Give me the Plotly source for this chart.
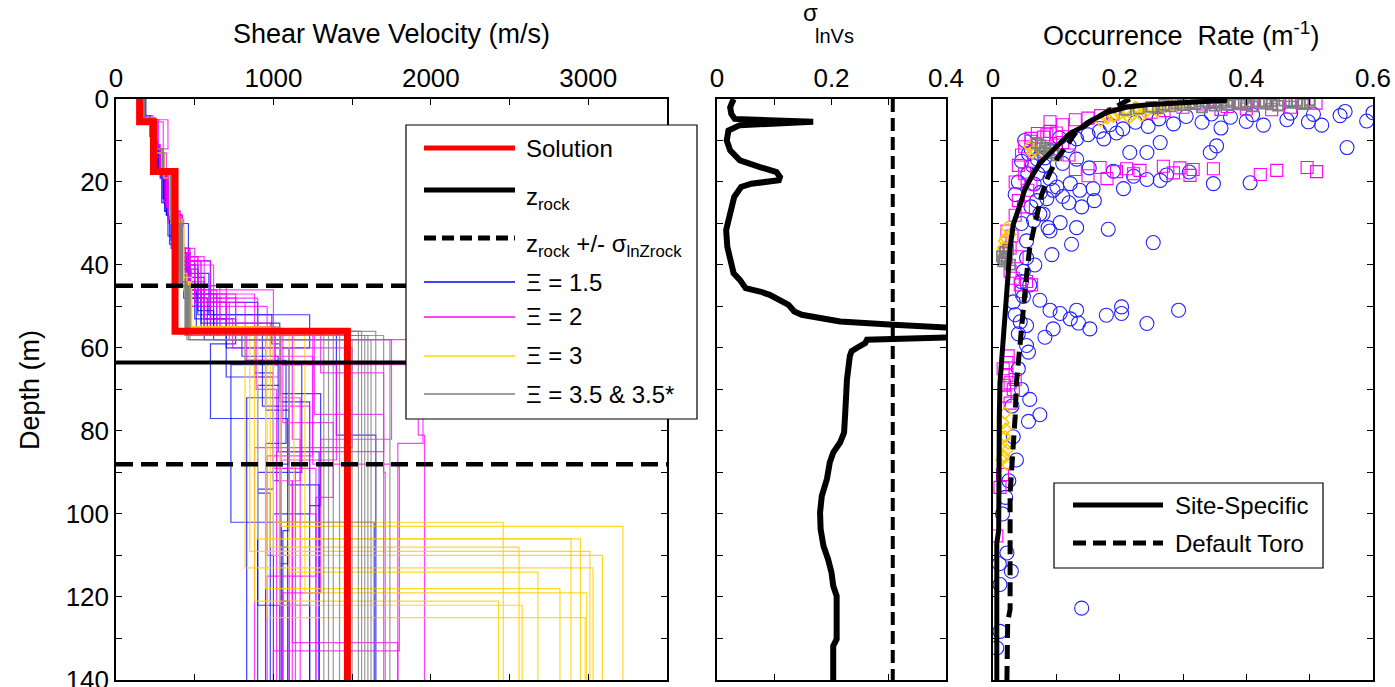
import plotly.graph_objects as go

W, H = 1395, 687
FONT = "Liberation Sans, Arial, sans-serif"

# ---------------- data ----------------
depth_labels = list(range(0, 141, 20))

# Solution Vs profile: layer bottoms (m) and Vs (m/s)
sol_bottoms = [5.5, 17.5, 56, 140]
sol_vs = [150, 238, 375, 1470]

z_rock = 63.5
z_rock_lo = 45.0
z_rock_hi = 88.0

# Xi = 1.5 profiles
blue_bottoms = [
    [5, 12, 19, 28, 40, 50, 57, 72, 140],
    [4, 10, 17, 25, 36, 45, 54, 64, 102, 140],
    [6, 13, 19, 30, 41, 52, 60, 93, 140],
    [5, 11, 18, 27, 38, 48, 58, 69, 95, 140],
    [4.5, 10, 16, 24, 34, 45, 56, 74, 108, 140],
    [5.5, 12, 18, 26, 37, 47, 57, 64, 90, 122, 140],
    [5, 13, 19, 29, 39, 49, 56, 81, 140],
    [4, 9, 17, 25, 35, 44, 53, 59, 77, 112, 140],
    [6, 12, 18, 28, 40, 51, 58, 67, 94, 140],
    [5, 11, 18, 27, 36, 46, 55, 62, 85, 118, 140],
    [5, 12, 19, 30, 42, 52, 59, 73, 100, 140],
    [4.5, 11, 17, 24, 33, 43, 53, 60, 88, 140],
    [5, 12, 18, 27, 38, 48, 57, 66, 92, 121, 140],
    [4.5, 11, 17, 25, 36, 47, 55, 71, 98, 140],
    [5, 12, 18, 28, 39, 49, 58, 75, 104, 140],
    [5, 11, 18, 26, 37, 46, 56, 63, 83, 140],
]
blue_vs = [
    [170, 230, 280, 320, 380, 470, 600, 1040, 830],
    [160, 220, 260, 300, 350, 460, 540, 1040, 730, 1640],
    [190, 250, 290, 340, 400, 520, 1230, 1100, 1290],
    [175, 240, 270, 310, 370, 430, 560, 1040, 900, 980],
    [180, 235, 265, 300, 350, 410, 600, 930, 1050, 1090],
    [165, 230, 275, 315, 380, 460, 640, 1040, 1180, 900, 1230],
    [170, 245, 285, 330, 390, 500, 900, 1400, 1650],
    [160, 215, 255, 290, 340, 420, 500, 760, 600, 1090, 1050],
    [185, 240, 280, 320, 400, 520, 620, 700, 1000, 900],
    [170, 230, 270, 310, 360, 440, 510, 800, 1030, 1290, 1290],
    [175, 250, 290, 340, 460, 590, 990, 1040, 1230, 1000],
    [170, 225, 265, 300, 330, 420, 560, 700, 1100, 1040],
    [175, 240, 280, 320, 380, 450, 580, 880, 1000, 1050, 1100],
    [170, 230, 270, 310, 360, 470, 620, 1040, 1300, 1230],
    [180, 245, 285, 330, 400, 600, 700, 950, 1100, 1060],
    [170, 235, 275, 315, 370, 450, 540, 820, 1080, 950],
]

# Xi = 2 profiles
mag_bottoms = [
    [5, 13, 18, 27, 38, 47, 56, 64, 83, 140],
    [4.5, 12, 17, 26, 36, 45, 55, 70, 92, 131, 140],
    [5, 12, 18, 29, 40, 48, 57, 82, 140],
    [5.5, 13, 19, 28, 39, 46, 56, 76, 90, 140],
    [4, 11, 17, 25, 35, 44, 53, 60, 84, 140],
    [5, 12, 18, 27, 37, 46, 55, 67, 89, 115, 140],
    [6, 14, 19, 30, 41, 50, 58, 81, 140],
    [5, 12, 17, 26, 36, 45, 54, 62, 88, 133, 140],
    [4.5, 12, 18, 28, 39, 49, 57, 78, 96, 140],
    [5, 13, 19, 29, 40, 48, 56, 72, 92, 140],
    [5, 11, 17, 26, 37, 46, 55, 64, 87, 140],
    [5.5, 12, 19, 28, 38, 47, 57, 86, 110, 140],
    [5, 12, 18, 27, 38, 47, 56, 66, 85, 140],
    [5, 12, 18, 28, 39, 48, 57, 74, 100, 140],
    [4.5, 11, 17, 26, 37, 46, 55, 63, 89, 140],
    [5, 12, 19, 29, 40, 49, 58, 82, 119, 140],
]
mag_vs = [
    [175, 250, 290, 330, 400, 520, 760, 1010, 1950, 1790],
    [165, 240, 280, 320, 380, 460, 660, 890, 1020, 1120, 1790],
    [180, 270, 300, 340, 410, 500, 900, 1120, 1170],
    [170, 300, 320, 360, 420, 600, 1000, 1260, 1700, 1710],
    [160, 235, 275, 310, 370, 430, 560, 740, 1500, 880],
    [175, 330, 300, 350, 400, 470, 640, 880, 1050, 1270, 960],
    [185, 260, 290, 330, 400, 480, 960, 1920, 1960],
    [170, 245, 285, 320, 390, 500, 700, 980, 1250, 1800, 1000],
    [170, 250, 295, 340, 420, 540, 820, 1060, 1380, 1270],
    [180, 260, 300, 350, 430, 620, 760, 1000, 1170, 1120],
    [175, 240, 280, 320, 380, 450, 560, 1010, 1400, 1050],
    [170, 260, 300, 340, 420, 520, 880, 1250, 960, 1100],
    [175, 250, 290, 330, 410, 560, 700, 1300, 1700, 1020],
    [180, 255, 300, 345, 420, 540, 660, 1050, 1230, 1270],
    [170, 240, 280, 320, 390, 470, 600, 830, 1000, 1140],
    [175, 250, 300, 340, 420, 500, 720, 1750, 1300, 1060],
]

# Xi = 3 profiles
yel_bottoms = [
    [5, 12, 18, 30, 45, 56, 102, 140],
    [5, 12, 18, 30, 44, 55, 103, 140],
    [4.5, 12, 18, 29, 43, 56, 106, 140],
    [5, 13, 19, 31, 46, 57, 106, 140],
    [5, 12, 18, 28, 42, 55, 108, 140],
    [5, 12, 18, 30, 45, 56, 109, 140],
    [5, 12, 18, 30, 44, 56, 110, 140],
    [4.5, 12, 18, 29, 43, 55, 113, 140],
    [5, 12, 18, 30, 45, 56, 114, 140],
    [5, 13, 19, 31, 46, 57, 118, 140],
    [5, 12, 18, 30, 44, 56, 119, 140],
    [5, 12, 18, 30, 44, 55, 121, 140],
    [5, 12, 18, 30, 45, 56, 122, 140],
    [5, 12, 18, 30, 45, 56, 125, 140],
]
yel_vs = [
    [175, 250, 300, 360, 420, 470, 1000, 2460],
    [170, 245, 295, 350, 410, 460, 1050, 3220],
    [175, 250, 300, 350, 420, 480, 900, 2890],
    [180, 255, 305, 360, 430, 460, 1130, 2950],
    [170, 245, 290, 340, 400, 450, 980, 2560],
    [175, 255, 300, 355, 420, 470, 850, 3010],
    [175, 250, 300, 350, 400, 460, 1000, 3090],
    [175, 250, 295, 345, 410, 450, 820, 3030],
    [180, 250, 300, 360, 420, 470, 1100, 2680],
    [175, 255, 305, 360, 430, 480, 950, 2820],
    [170, 250, 300, 350, 410, 470, 1200, 2990],
    [175, 250, 300, 350, 410, 470, 880, 2430],
    [175, 245, 300, 355, 420, 460, 1040, 2580],
    [175, 250, 300, 360, 420, 470, 960, 2980],
]

# Xi = 3.5 & 3.5* profiles
gray_bottoms = [
    [5, 12, 18, 30, 44, 56, 140],
    [5, 12, 18, 30, 45, 57, 140],
    [5, 12, 18, 30, 45, 56, 140],
    [4.5, 12, 18, 29, 44, 57, 140],
    [5, 12, 18, 30, 45, 58, 140],
    [5, 12, 18, 30, 45, 56, 140],
    [5, 12, 18, 30, 44, 57, 140],
    [5, 12, 18, 30, 45, 58, 140],
    [5, 12, 18, 30, 45, 56, 140],
    [5, 13, 19, 30, 45, 57, 140],
    [5, 12, 18, 30, 45, 58, 140],
    [5, 12, 18, 30, 44, 57, 140],
    [5, 12, 18, 30, 45, 56, 140],
    [5, 12, 18, 30, 45, 57, 140],
]
gray_vs = [
    [175, 250, 300, 360, 410, 450, 1320],
    [170, 245, 300, 350, 400, 440, 1380],
    [175, 250, 300, 355, 420, 460, 1420],
    [175, 250, 295, 350, 410, 450, 1460],
    [180, 255, 300, 360, 420, 470, 1500],
    [175, 250, 300, 360, 410, 450, 1540],
    [175, 250, 300, 355, 400, 440, 1580],
    [170, 250, 300, 350, 410, 460, 1620],
    [175, 250, 300, 360, 420, 470, 1650],
    [180, 255, 305, 360, 420, 460, 1700],
    [175, 250, 300, 355, 410, 450, 1740],
    [175, 250, 300, 350, 400, 440, 1350],
    [175, 245, 300, 360, 420, 460, 1560],
    [175, 250, 300, 355, 415, 455, 1600],
]

# sigma lnVs vs depth
sig_depth = [0, 2, 3.6, 4.8, 5.5, 6.3, 7.6, 10, 12.4, 14.8, 16.4, 17.6, 18.8, 19.6,
             20.4, 21.2, 23.6, 27.6, 31.6, 35.6, 40.4, 42, 43.6, 45.6, 46.4, 47.2,
             49.6, 51.2, 52, 52.8, 53.6, 54.4, 55.2, 56.4, 57.4, 58, 58.8, 60, 60.8,
             62, 67.6, 75.6, 80.4, 82.8, 85.2, 87.6, 91.6, 95.7, 99.7, 103.7, 107.7,
             110.9, 114.1, 117.3, 119.8, 125.4, 130.2, 131.8, 140]
sig_val = [0.029, 0.023, 0.025, 0.031, 0.168, 0.040, 0.020, 0.017, 0.023, 0.040,
           0.075, 0.104, 0.110, 0.108, 0.060, 0.042, 0.030, 0.022, 0.016, 0.018,
           0.026, 0.029, 0.040, 0.050, 0.075, 0.092, 0.125, 0.135, 0.148, 0.190,
           0.215, 0.308, 0.42, 0.45, 0.42, 0.262, 0.259, 0.244, 0.235, 0.232,
           0.227, 0.224, 0.222, 0.215, 0.203, 0.197, 0.192, 0.183, 0.180, 0.181,
           0.186, 0.194, 0.200, 0.203, 0.209, 0.209, 0.209, 0.203, 0.203]
sigma_lnz = 0.307

# occurrence-rate models
site_depth = [0.3, 0.8, 1.3, 2.0, 3.2, 4.8, 6.5, 8.2, 11.5, 13.1, 15.5, 18.7, 21.9,
              24.5, 30.2, 35.9, 42.4, 50.5, 60.2, 68.4, 76.5, 88, 104, 107, 140]
site_rate = [0.37, 0.30, 0.25, 0.21, 0.18, 0.16, 0.145, 0.122, 0.10, 0.09, 0.074,
             0.061, 0.05, 0.045, 0.032, 0.027, 0.024, 0.019, 0.015, 0.011, 0.010,
             0.0095, 0.009, 0.006, 0.006]
toro_depth = [0, 1.8, 3.8, 5.8, 8.2, 11.5, 14.7, 18.7, 23, 30.2, 35.9, 42.4, 50.5,
              60.2, 68.4, 76.5, 88, 95, 123, 126, 140]
toro_rate = [0.216, 0.195, 0.169, 0.148, 0.13, 0.114, 0.10, 0.087, 0.077, 0.066,
             0.058, 0.053, 0.048, 0.0426, 0.037, 0.035, 0.0295, 0.027, 0.027,
             0.0232, 0.022]

# occurrence-rate scatter (rate, depth)
blue_pt_rate = [0.600, 0.590, 0.556, 0.548, 0.519, 0.506, 0.498, 0.470, 0.464, 0.427,
                0.410, 0.400, 0.375, 0.360, 0.345, 0.330, 0.305, 0.285, 0.262, 0.245,
                0.225, 0.205, 0.185, 0.168, 0.150,
                0.559, 0.353, 0.343, 0.264, 0.243, 0.216, 0.195, 0.175, 0.132, 0.120,
                0.105, 0.092, 0.082, 0.110, 0.132, 0.152, 0.190, 0.222, 0.274, 0.243,
                0.310, 0.348, 0.406, 0.062, 0.071, 0.090, 0.056, 0.158, 0.206, 0.137,
                0.122, 0.101, 0.264,
                0.050, 0.060, 0.070, 0.080, 0.045, 0.055, 0.065, 0.075, 0.085, 0.095,
                0.110, 0.120, 0.040, 0.035, 0.140, 0.160,
                0.182, 0.253, 0.132, 0.124, 0.093, 0.106, 0.087, 0.066, 0.058, 0.074,
                0.090, 0.106, 0.132, 0.122, 0.135, 0.153, 0.179, 0.203, 0.203, 0.243,
                0.293, 0.095, 0.082, 0.053, 0.040, 0.053, 0.056, 0.069, 0.079, 0.090,
                0.032, 0.035, 0.043, 0.048, 0.053, 0.064, 0.074, 0.053, 0.048, 0.045,
                0.060, 0.045,
                0.058, 0.074, 0.056, 0.032, 0.037, 0.040, 0.045, 0.030, 0.025, 0.020,
                0.022, 0.029, 0.011, 0.006, 0.011, 0.140, 0.015, 0.010]
blue_pt_depth = [3.3, 5.3, 3.0, 4.0, 6.3, 3.7, 5.5, 3.4, 5.0, 6.3,
                 3.8, 5.4, 4.4, 7.0, 3.6, 5.6, 4.2, 6.0, 4.8, 6.6,
                 5.6, 7.2, 6.2, 7.8, 8.6,
                 11.7, 11.3, 12.9, 10.5, 12.9, 12.9, 8.2, 9.6, 9.6, 11.2,
                 9.4, 12.5, 14.2, 15.5, 14.5, 16.6, 17.4, 18.6, 18.3, 19.4,
                 17.6, 20.4, 20.2, 16.0, 18.0, 19.2, 13.2, 21.6, 21.6, 22.0,
                 20.4, 21.2, 19.6,
                 10.0, 12.0, 14.5, 16.0, 15.0, 18.0, 20.5, 22.5, 24.0, 22.0,
                 23.5, 25.0, 20.0, 23.0, 26.0, 24.5,
                 31.4, 34.6, 31.0, 35.0, 37.5, 29.8, 31.0, 40.0, 44.8, 48.5,
                 50.9, 51.7, 50.9, 53.0, 54.0, 55.4, 52.1, 50.1, 51.7, 54.1,
                 50.9, 55.4, 57.4, 54.6, 56.6, 59.4, 61.0, 24.5, 27.7, 31.8,
                 48.9, 52.0, 53.7, 47.6, 34.2, 29.3, 27.7, 38.3, 41.5, 44.0,
                 26.0, 30.0,
                 72.4, 76.1, 77.7, 81.4, 87.0, 65.0, 70.0, 74.0, 92.0, 96.0,
                 109.4, 113.8, 117.0, 132.3, 128.3, 122.7, 100.0, 112.0]

mag_pt_rate = [0.33, 0.35, 0.37, 0.39, 0.41, 0.43, 0.45, 0.47, 0.49, 0.51, 0.36, 0.40,
               0.44, 0.30, 0.27, 0.25,
               0.09, 0.11, 0.13, 0.15, 0.17, 0.19, 0.06, 0.05, 0.045, 0.04, 0.05,
               0.035, 0.065,
               0.07, 0.085, 0.10, 0.08, 0.09, 0.06, 0.11, 0.10, 0.12,
               0.169, 0.195, 0.211, 0.222, 0.232, 0.269, 0.285, 0.295, 0.311, 0.316,
               0.348, 0.422, 0.448, 0.496, 0.511, 0.15, 0.13, 0.18,
               0.040, 0.048, 0.022, 0.027, 0.027, 0.032, 0.043, 0.053, 0.061, 0.045,
               0.055, 0.060, 0.035, 0.030, 0.038, 0.020,
               0.016, 0.022, 0.027, 0.032, 0.019, 0.027, 0.022, 0.024, 0.035, 0.018,
               0.011, 0.006, 0.015]
mag_pt_depth = [1.2, 0.6, 1.8, 0.8, 1.5, 0.5, 1.2, 2.0, 0.7, 1.0, 2.5, 2.4,
                2.6, 2.0, 2.8, 3.2,
                5.5, 6.2, 5.0, 4.6, 4.0, 3.6, 9.5, 11.5, 13.5, 16.0, 18.0,
                20.0, 15.0,
                8.3, 8.6, 8.2, 9.2, 7.8, 10.2, 10.5, 12.0, 13.5,
                16.5, 17.5, 16.8, 18.0, 17.2, 16.2, 17.8, 16.6, 18.4, 17.0,
                16.8, 18.2, 17.2, 16.5, 17.5, 18.5, 17.0, 19.2,
                24.5, 26.0, 31.8, 35.9, 41.5, 43.2, 44.8, 44.0, 44.8, 46.4,
                22.0, 20.5, 28.0, 33.0, 38.0, 37.0,
                65.0, 66.7, 68.4, 70.0, 71.6, 73.3, 63.5, 61.9, 67.6, 69.0,
                93.6, 105.3, 90.5]

yel_pt_rate = [0.20, 0.21, 0.22, 0.23, 0.24, 0.25, 0.26, 0.215, 0.225, 0.235, 0.27,
               0.28, 0.19, 0.18, 0.17, 0.29, 0.30,
               0.058, 0.065, 0.072, 0.079, 0.062,
               0.022, 0.027, 0.016, 0.020, 0.018,
               0.019, 0.016, 0.019, 0.022, 0.014, 0.022, 0.024, 0.017, 0.020]
yel_pt_depth = [3.5, 2.8, 3.8, 2.5, 3.2, 2.2, 2.9, 4.5, 2.0, 4.0, 2.0,
                1.6, 4.2, 4.6, 5.2, 1.3, 1.0,
                11.5, 12.2, 11.0, 12.8, 13.0,
                31.0, 32.6, 35.9, 33.5, 34.2,
                75.7, 78.0, 81.4, 84.6, 87.0, 88.0, 83.0, 86.0, 79.5]

gray_pt_rate = [0.30, 0.32, 0.34, 0.36, 0.38, 0.40, 0.42, 0.44, 0.46, 0.48, 0.50,
                0.35, 0.39, 0.43, 0.47, 0.49, 0.41, 0.45, 0.28, 0.26, 0.33, 0.37,
                0.31, 0.33, 0.35, 0.37, 0.29, 0.27, 0.25, 0.23, 0.21, 0.40, 0.44,
                0.48, 0.50,
                0.069, 0.075, 0.082, 0.088, 0.095, 0.10, 0.078,
                0.019, 0.022, 0.016, 0.024, 0.014, 0.027, 0.018]
gray_pt_depth = [1.5, 1.2, 1.0, 0.9, 0.8, 0.7, 0.6, 0.5, 0.4, 0.4, 0.3,
                 1.6, 1.3, 1.1, 0.9, 1.2, 1.8, 1.6, 1.8, 2.2, 2.0, 1.4,
                 0.9, 0.6, 0.5, 0.4, 1.1, 1.4, 1.9, 2.3, 2.6, 1.4, 1.3,
                 0.8, 0.8,
                 10.6, 11.2, 11.8, 12.4, 13.0, 13.6, 12.9,
                 37.0, 38.3, 39.1, 36.3, 37.9, 39.9, 38.6]

# ---------------- helpers ----------------
def steps(bottoms, vs):
    xs, ys = [], []
    top = 0
    for b, v in zip(bottoms, vs):
        xs += [v, v]
        ys += [top, b]
        top = b
    return xs, ys


def group(bottoms_list, vs_list):
    X, Y = [], []
    for b, v in zip(bottoms_list, vs_list):
        xs, ys = steps(b, v)
        X += xs + [None]
        Y += ys + [None]
    return X, Y


def fx(px):
    return px / W


def fy(py):
    return 1 - py / H


fig = go.Figure()

# ---- left panel: Vs profiles ----
for (bl, vl, col) in [(blue_bottoms, blue_vs, "rgba(0,0,255,0.75)"),
                      (mag_bottoms, mag_vs, "rgba(255,0,255,0.75)"),
                      (yel_bottoms, yel_vs, "rgba(255,210,0,0.85)"),
                      (gray_bottoms, gray_vs, "rgba(128,128,128,0.8)")]:
    X, Y = group(bl, vl)
    fig.add_trace(go.Scatter(x=X, y=Y, mode="lines", line=dict(color=col, width=1.2),
                             xaxis="x", yaxis="y", hoverinfo="skip"))

sx, sy = steps(sol_bottoms, sol_vs)
fig.add_trace(go.Scatter(x=sx, y=sy, mode="lines", line=dict(color="#ff0000", width=7),
                         xaxis="x", yaxis="y"))
fig.add_trace(go.Scatter(x=[0, 3500], y=[z_rock, z_rock], mode="lines",
                         line=dict(color="black", width=4), xaxis="x", yaxis="y"))
for zz in (z_rock_lo, z_rock_hi):
    fig.add_trace(go.Scatter(x=[0, 3500], y=[zz, zz], mode="lines",
                             line=dict(color="black", width=4.5, dash="17px,8px"),
                             xaxis="x", yaxis="y"))

# ---- middle panel ----
fig.add_trace(go.Scatter(x=sig_val, y=sig_depth, mode="lines",
                         line=dict(color="black", width=6), xaxis="x2", yaxis="y2"))
fig.add_trace(go.Scatter(x=[sigma_lnz, sigma_lnz], y=[0, 140], mode="lines",
                         line=dict(color="black", width=4, dash="13px,6px"),
                         xaxis="x2", yaxis="y2"))

# ---- right panel ----
fig.add_trace(go.Scatter(x=blue_pt_rate, y=blue_pt_depth, mode="markers",
                         marker=dict(symbol="circle-open", size=14, color="#2020ff",
                                     line=dict(width=1.1)), xaxis="x3", yaxis="y3"))
fig.add_trace(go.Scatter(x=mag_pt_rate, y=mag_pt_depth, mode="markers",
                         marker=dict(symbol="square-open", size=12, color="#ff00ff",
                                     line=dict(width=1.1)), xaxis="x3", yaxis="y3"))
fig.add_trace(go.Scatter(x=yel_pt_rate, y=yel_pt_depth, mode="markers",
                         marker=dict(symbol="diamond-open", size=9, color="#ffcc00",
                                     line=dict(width=1.6)), xaxis="x3", yaxis="y3"))
fig.add_trace(go.Scatter(x=gray_pt_rate, y=gray_pt_depth, mode="markers",
                         marker=dict(symbol="square-open", size=10, color="#808080",
                                     line=dict(width=1.8)), xaxis="x3", yaxis="y3"))
fig.add_trace(go.Scatter(x=site_rate, y=site_depth, mode="lines",
                         line=dict(color="black", width=5), xaxis="x3", yaxis="y3"))
fig.add_trace(go.Scatter(x=toro_rate, y=toro_depth, mode="lines",
                         line=dict(color="black", width=5, dash="14px,7px"),
                         xaxis="x3", yaxis="y3"))

# ---------------- axes ----------------
ydom = [1 - 680 / H, 1 - 99 / H]
TICKSIZE = 26
MINOR = dict(ticks="inside", ticklen=6, tickwidth=1.2, tickcolor="black", showgrid=False)


def xax(d0, d1, rng, dt, anchor):
    return dict(domain=[fx(d0), fx(d1)], range=rng, side="top", tick0=0, dtick=dt,
                tickmode="linear", ticks="inside", ticklen=6, tickwidth=1.2,
                tickcolor="black", showline=True, linecolor="black", linewidth=1.5,
                mirror="ticks", showgrid=False, zeroline=False, anchor=anchor,
                minor=dict(dtick=dt / 2, tick0=0, **MINOR), ticklabeloverflow="allow",
                tickfont=dict(size=TICKSIZE, color="black", family=FONT),
                automargin=False, fixedrange=True)


def yax(anchor, labels):
    return dict(domain=ydom, range=[140.02, 0], tickmode="array", tickvals=depth_labels,
                ticktext=[str(v) for v in depth_labels],
                ticks="inside", ticklen=6, tickwidth=1.2, tickcolor="black",
                showline=True, linecolor="black", linewidth=1.5, mirror="ticks",
                minor=dict(tickmode="array", tickvals=list(range(10, 140, 20)), **MINOR),
                showgrid=False, zeroline=False, anchor=anchor, showticklabels=labels,
                ticklabeloverflow="allow",
                tickfont=dict(size=TICKSIZE, color="black", family=FONT),
                automargin=False, fixedrange=True)


fig.update_layout(
    width=W, height=H, margin=dict(l=0, r=0, t=0, b=0),
    paper_bgcolor="white", plot_bgcolor="white", showlegend=False,
    font=dict(family=FONT, color="black"),
    xaxis=xax(116, 667, [0, 3500], 1000, "y"),
    xaxis2=xax(717, 946, [0, 0.4], 0.2, "y2"),
    xaxis3=xax(993, 1373, [0, 0.6], 0.2, "y3"),
    yaxis=yax("x", True),
    yaxis2=yax("x2", False),
    yaxis3=yax("x3", False),
)

# ---------------- titles ----------------
TITLE = 27
ann = []
ann.append(dict(x=fx(391), y=fy(34), text="Shear Wave Velocity (m/s)", showarrow=False,
                xref="paper", yref="paper", font=dict(size=TITLE), xanchor="center",
                yanchor="middle"))
ann.append(dict(x=fx(1181), y=fy(34), text="Occurrence\u00a0 Rate (m<sup>-1</sup>)",
                showarrow=False, xref="paper", yref="paper", font=dict(size=TITLE),
                xanchor="center", yanchor="middle"))
ann.append(dict(x=fx(810), y=fy(12), text="\u03c3", showarrow=False, xref="paper",
                yref="paper", font=dict(size=24), xanchor="center", yanchor="middle"))
ann.append(dict(x=fx(834), y=fy(36), text="lnVs", showarrow=False, xref="paper",
                yref="paper", font=dict(size=20), xanchor="center", yanchor="middle"))
ann.append(dict(x=fx(30), y=fy(390), text="Depth (m)", showarrow=False, xref="paper",
                yref="paper", font=dict(size=TITLE), textangle=-90, xanchor="center",
                yanchor="middle"))

# ---------------- manual legends ----------------
LEG = 24
shapes = []
shapes.append(dict(type="rect", xref="paper", yref="paper", x0=fx(406), x1=fx(697),
                   y0=fy(419), y1=fy(125), fillcolor="white",
                   line=dict(color="black", width=1.2), layer="above"))
leg_rows = [
    (148, "#ff0000", 5, "solid", "Solution"),
    (190, "black", 5, "solid", "z<sub>rock</sub>"),
    (238, "black", 5, "12px,6px", "z<sub>rock</sub> +/- \u03c3<sub>lnZrock</sub>"),
    (282, "#0000ff", 1.3, "solid", "\u039e = 1.5"),
    (317, "#ff00ff", 1.3, "solid", "\u039e = 2"),
    (356, "#ffd700", 1.6, "solid", "\u039e = 3"),
    (394, "#808080", 1.3, "solid", "\u039e = 3.5 & 3.5*"),
]
for (yy, col, wd, dsh, txt) in leg_rows:
    shapes.append(dict(type="line", xref="paper", yref="paper", x0=fx(424), x1=fx(515),
                       y0=fy(yy), y1=fy(yy), line=dict(color=col, width=wd, dash=dsh),
                       layer="above"))
    ty = yy + (8 if "<sub>" in txt else 0)
    ann.append(dict(x=fx(524), y=fy(ty), text=txt, showarrow=False, xref="paper",
                    yref="paper", font=dict(size=LEG), xanchor="left", yanchor="middle"))

shapes.append(dict(type="rect", xref="paper", yref="paper", x0=fx(1054), x1=fx(1323),
                   y0=fy(568), y1=fy(483), fillcolor="white",
                   line=dict(color="black", width=1.2), layer="above"))
for (yy, dsh, txt) in [(505, "solid", "Site-Specific"), (543, "13px,7px", "Default Toro")]:
    shapes.append(dict(type="line", xref="paper", yref="paper", x0=fx(1073), x1=fx(1163),
                       y0=fy(yy), y1=fy(yy), line=dict(color="black", width=5, dash=dsh),
                       layer="above"))
    ann.append(dict(x=fx(1173), y=fy(yy), text=txt, showarrow=False, xref="paper",
                    yref="paper", font=dict(size=LEG), xanchor="left", yanchor="middle"))

fig.update_layout(annotations=ann, shapes=shapes)

fig.write_html("out.html")
